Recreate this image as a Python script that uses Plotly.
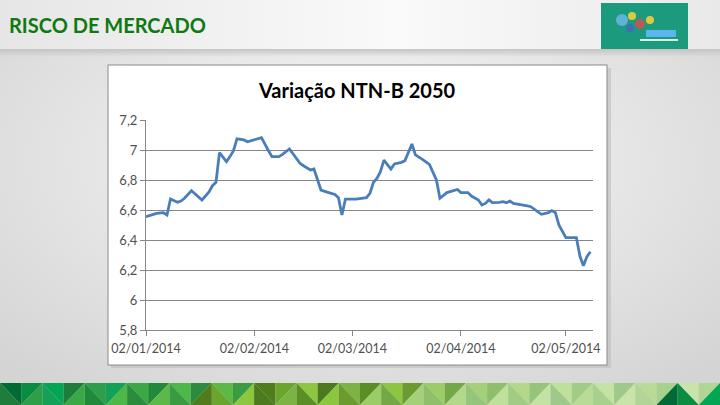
import base64
import plotly.graph_objects as go

# ---------------- data ----------------
dates = [
    "2014-01-02", "2014-01-04", "2014-01-05", "2014-01-07", "2014-01-08", "2014-01-09",
    "2014-01-11", "2014-01-12", "2014-01-13", "2014-01-15", "2014-01-16", "2014-01-18",
    "2014-01-19", "2014-01-20", "2014-01-21", "2014-01-22", "2014-01-23", "2014-01-25",
    "2014-01-26", "2014-01-27", "2014-01-28", "2014-01-30", "2014-01-31", "2014-02-02",
    "2014-02-04", "2014-02-06", "2014-02-07", "2014-02-09", "2014-02-10", "2014-02-12",
    "2014-02-14", "2014-02-15", "2014-02-16", "2014-02-18", "2014-02-19", "2014-02-20",
    "2014-02-21", "2014-02-23", "2014-02-25", "2014-02-26", "2014-02-27", "2014-02-28",
    "2014-03-03", "2014-03-06", "2014-03-07", "2014-03-08", "2014-03-09", "2014-03-10",
    "2014-03-11", "2014-03-13", "2014-03-14", "2014-03-16", "2014-03-17", "2014-03-19",
    "2014-03-20", "2014-03-22", "2014-03-24", "2014-03-26", "2014-03-27", "2014-03-29",
    "2014-03-31", "2014-04-01", "2014-04-02", "2014-04-04", "2014-04-05", "2014-04-06",
    "2014-04-07", "2014-04-08", "2014-04-09", "2014-04-10", "2014-04-11", "2014-04-13",
    "2014-04-14", "2014-04-15", "2014-04-16", "2014-04-17", "2014-04-19", "2014-04-21",
    "2014-04-22", "2014-04-24", "2014-04-25", "2014-04-27", "2014-04-28", "2014-04-29",
    "2014-04-30", "2014-05-02", "2014-05-04", "2014-05-05", "2014-05-06", "2014-05-07",
    "2014-05-08", "2014-05-09",
]
values = [
    6.555, 6.571, 6.578, 6.582, 6.567, 6.673,
    6.651, 6.660, 6.678, 6.729, 6.707, 6.667,
    6.693, 6.720, 6.762, 6.785, 6.982, 6.922,
    6.956, 6.995, 7.075, 7.067, 7.055, 7.067,
    7.082, 6.995, 6.956, 6.956, 6.971, 7.007,
    6.940, 6.911, 6.895, 6.867, 6.873, 6.800,
    6.733, 6.718, 6.704, 6.682, 6.567, 6.673,
    6.673, 6.682, 6.711, 6.785, 6.811, 6.856,
    6.933, 6.873, 6.907, 6.918, 6.929, 7.040,
    6.967, 6.938, 6.904, 6.800, 6.678, 6.716,
    6.727, 6.737, 6.716, 6.716, 6.693, 6.682,
    6.667, 6.633, 6.644, 6.667, 6.649, 6.651,
    6.656, 6.649, 6.660, 6.644, 6.633, 6.627,
    6.622, 6.589, 6.571, 6.582, 6.596, 6.582,
    6.500, 6.416, 6.416, 6.416, 6.293, 6.229,
    6.289, 6.322,
]
y_ticks = [5.8, 6.0, 6.2, 6.4, 6.6, 6.8, 7.0, 7.2]
y_tick_labels = ["5,8", "6", "6,2", "6,4", "6,6", "6,8", "7", "7,2"]
x_ticks = ["2014-01-02", "2014-02-02", "2014-03-02", "2014-04-02", "2014-05-02"]
x_tick_labels = ["02/01/2014", "02/02/2014", "02/03/2014", "02/04/2014", "02/05/2014"]
x_range = ["2014-01-02", "2014-05-09 18:00"]
chart_title = "Variação NTN-B 2050"
slide_title = "RISCO DE MERCADO"

# ---------------- layout geometry (pixels) ----------------
W, H = 720, 405
L, R, T, B = 146, 593, 120, 330


def px(x):
    return (x - L) / (R - L)


def py(y):
    return (B - y) / (B - T)


# ---------------- decorative slide background (SVG) ----------------
greens = ["#006b35", "#0b8c43", "#00a651", "#1e7d3a", "#2e9e48", "#13a157",
          "#3aa845", "#1f8a3a", "#4db848", "#2a8c3c", "#5cb847", "#3a9c40",
          "#4f7d1c", "#6aa52d", "#8dc63f", "#4e7a1f", "#7cb342", "#5b8f25",
          "#8cc63e", "#6b9a2f", "#9ccc65", "#74a847", "#a5d07a", "#8fbf6a",
          "#b3d88a", "#95c57a", "#bfe09a", "#a2cc85", "#c5e2a5", "#9fc98a",
          "#b8dc98", "#a9d18e", "#c8e4ab", "#b0d596"]
tri = []
n_cells = len(greens)
cw = W / n_cells
for i in range(n_cells):
    x0 = i * cw
    x1 = x0 + cw
    c1 = greens[i]
    c2 = greens[(i + 3) % n_cells]
    if i % 2 == 0:
        tri.append(f'<polygon points="{x0:.1f},383 {x1:.1f},383 {x1:.1f},405" fill="{c1}"/>')
        tri.append(f'<polygon points="{x0:.1f},383 {x1:.1f},405 {x0:.1f},405" fill="{c2}"/>')
    else:
        tri.append(f'<polygon points="{x0:.1f},383 {x1:.1f},383 {x0:.1f},405" fill="{c1}"/>')
        tri.append(f'<polygon points="{x1:.1f},383 {x1:.1f},405 {x0:.1f},405" fill="{c2}"/>')

svg = f'''<svg xmlns="http://www.w3.org/2000/svg" width="{W}" height="{H}" viewBox="0 0 {W} {H}">
<defs>
<radialGradient id="bg" cx="50%" cy="40%" r="70%">
<stop offset="0" stop-color="#f9f9f9"/><stop offset="1" stop-color="#d4d4d4"/>
</radialGradient>
<linearGradient id="hd" x1="0" y1="0" x2="1" y2="0">
<stop offset="0" stop-color="#e6e6e6"/><stop offset="0.55" stop-color="#fafafa"/><stop offset="1" stop-color="#e9e9e9"/>
</linearGradient>
<linearGradient id="sh" x1="0" y1="0" x2="0" y2="1">
<stop offset="0" stop-color="#c4c4c4"/><stop offset="1" stop-color="#c4c4c4" stop-opacity="0"/>
</linearGradient>
</defs>
<rect width="{W}" height="{H}" fill="url(#bg)"/>
<rect width="{W}" height="50" fill="url(#hd)"/>
<rect x="0" y="49" width="{W}" height="8" fill="url(#sh)"/>
<rect x="601" y="3" width="87" height="46" fill="#1c9a7e"/>
<circle cx="622" cy="20" r="6" fill="#6fb8e8" opacity="0.8"/>
<circle cx="632" cy="16" r="4" fill="#f2d03b" opacity="0.9"/>
<circle cx="640" cy="24" r="5" fill="#e5484d" opacity="0.8"/>
<circle cx="630" cy="28" r="4" fill="#4a63c8" opacity="0.8"/>
<circle cx="650" cy="20" r="4" fill="#f2d03b" opacity="0.9"/>
<rect x="646" y="30" width="30" height="7" fill="#5bb6f0"/>
<rect x="640" y="39" width="38" height="2" fill="#d9efe6"/>
<rect x="111" y="68" width="500" height="300" fill="#bdbdbd" opacity="0.6"/>
<rect x="108" y="65" width="499" height="300" fill="#ffffff" stroke="#8a8a8a" stroke-width="1"/>
{''.join(tri)}
</svg>'''
svg_uri = "data:image/svg+xml;base64," + base64.b64encode(svg.encode("utf-8")).decode("ascii")

# ---------------- figure ----------------
fig = go.Figure()
fig.add_trace(go.Scatter(
    x=dates, y=values, mode="lines",
    line=dict(color="#4a7ebb", width=2.8),
    hoverinfo="skip", showlegend=False,
))

y_tick_font = dict(family="Lato, 'Open Sans', sans-serif", size=13, color="#505050")
x_tick_font = dict(family="Lato, 'Open Sans', sans-serif", size=12.5, color="#505050")

fig.update_layout(
    width=W, height=H,
    margin=dict(l=L, r=W - R, t=T, b=H - B, pad=0),
    paper_bgcolor="#e6e6e6",
    plot_bgcolor="rgba(0,0,0,0)",
    showlegend=False,
    images=[dict(
        source=svg_uri, xref="paper", yref="paper",
        x=px(0), y=py(0), sizex=W / (R - L), sizey=H / (B - T),
        xanchor="left", yanchor="top", sizing="stretch", layer="below",
    )],
    xaxis=dict(
        type="date", range=x_range, automargin=False,
        tickmode="array", tickvals=x_ticks, ticktext=x_tick_labels,
        showgrid=False, zeroline=False,
        showline=True, linecolor="#868686", linewidth=1,
        ticks="outside", ticklen=5, tickcolor="#868686", tickwidth=1,
        tickfont=x_tick_font, ticklabelstandoff=2,
    ),
    yaxis=dict(
        range=[5.8, 7.2], automargin=False,
        tickmode="array", tickvals=y_ticks, ticktext=y_tick_labels,
        showgrid=True, gridcolor="#868686", gridwidth=1,
        zeroline=False,
        showline=True, linecolor="#868686", linewidth=1,
        ticks="outside", ticklen=5, tickcolor="#868686", tickwidth=1,
        tickfont=y_tick_font,
    ),
    annotations=[
        dict(text=slide_title, xref="paper", yref="paper", x=px(7), y=py(25),
             xanchor="left", yanchor="middle", showarrow=False,
             font=dict(family="Lato, 'Open Sans', sans-serif", size=20, color="#0f7a12", weight="bold")),
        dict(text=chart_title, xref="paper", yref="paper", x=px(356), y=py(90),
             xanchor="center", yanchor="middle", showarrow=False,
             font=dict(family="Lato, 'Open Sans', sans-serif", size=20, color="#000000", weight="bold")),
    ],
)

fig.write_html(
    "out.html",
    config={"displayModeBar": False, "staticPlot": True},
    post_script="document.body.style.margin='0';document.body.style.overflow='hidden';",
)
